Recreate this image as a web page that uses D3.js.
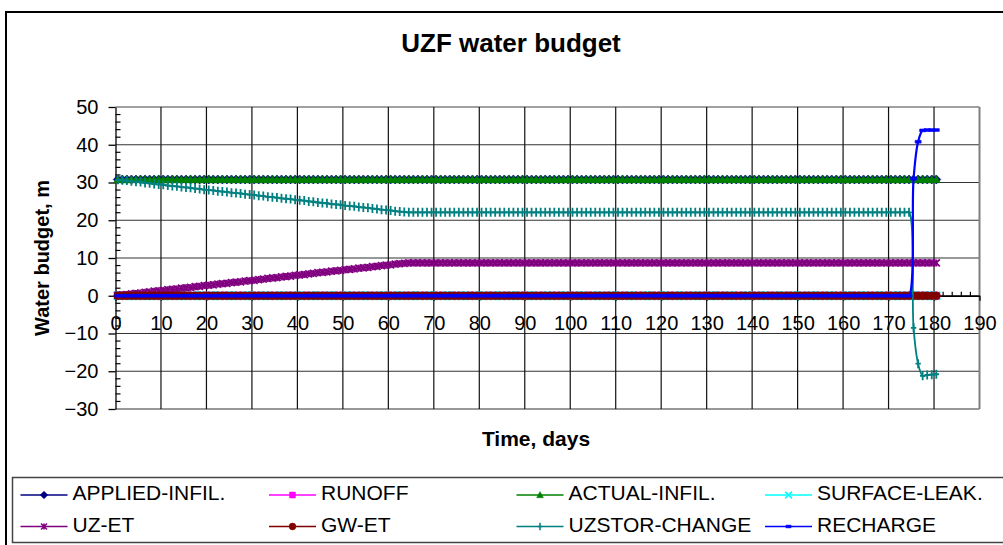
<!DOCTYPE html>
<html>
<head>
<meta charset="utf-8">
<script src="https://cdn.jsdelivr.net/npm/d3@7"></script>
<style>
  body { margin: 0; background: #fff; }
  svg { display: block; }
</style>
</head>
<body>
<svg width="1003" height="545"></svg>
<script>
// daily output times (mid-day), 0.5 .. 180.5
const days = d3.range(0.5, 181, 1);

const seriesNames = ["APPLIED-INFIL.", "RUNOFF", "ACTUAL-INFIL.", "SURFACE-LEAK.",
    "UZ-ET", "GW-ET", "UZSTOR-CHANGE", "RECHARGE"];

const xTickValues = [0, 10, 20, 30, 40, 50, 60, 70, 80, 90, 100, 110, 120, 130, 140, 150, 160, 170, 180, 190];
const yTickValues = [-30, -20, -10, 0, 10, 20, 30, 40, 50];

const appliedInfil = [
    30.8, 30.8, 30.8, 30.8, 30.8, 30.8, 30.8, 30.8, 30.8, 30.8, 30.8, 30.8, 30.8, 30.8, 30.8, 30.8, 30.8, 30.8, 30.8, 30.8,
    30.8, 30.8, 30.8, 30.8, 30.8, 30.8, 30.8, 30.8, 30.8, 30.8, 30.8, 30.8, 30.8, 30.8, 30.8, 30.8, 30.8, 30.8, 30.8, 30.8,
    30.8, 30.8, 30.8, 30.8, 30.8, 30.8, 30.8, 30.8, 30.8, 30.8, 30.8, 30.8, 30.8, 30.8, 30.8, 30.8, 30.8, 30.8, 30.8, 30.8,
    30.8, 30.8, 30.8, 30.8, 30.8, 30.8, 30.8, 30.8, 30.8, 30.8, 30.8, 30.8, 30.8, 30.8, 30.8, 30.8, 30.8, 30.8, 30.8, 30.8,
    30.8, 30.8, 30.8, 30.8, 30.8, 30.8, 30.8, 30.8, 30.8, 30.8, 30.8, 30.8, 30.8, 30.8, 30.8, 30.8, 30.8, 30.8, 30.8, 30.8,
    30.8, 30.8, 30.8, 30.8, 30.8, 30.8, 30.8, 30.8, 30.8, 30.8, 30.8, 30.8, 30.8, 30.8, 30.8, 30.8, 30.8, 30.8, 30.8, 30.8,
    30.8, 30.8, 30.8, 30.8, 30.8, 30.8, 30.8, 30.8, 30.8, 30.8, 30.8, 30.8, 30.8, 30.8, 30.8, 30.8, 30.8, 30.8, 30.8, 30.8,
    30.8, 30.8, 30.8, 30.8, 30.8, 30.8, 30.8, 30.8, 30.8, 30.8, 30.8, 30.8, 30.8, 30.8, 30.8, 30.8, 30.8, 30.8, 30.8, 30.8,
    30.8, 30.8, 30.8, 30.8, 30.8, 30.8, 30.8, 30.8, 30.8, 30.8, 30.8, 30.8, 30.8, 30.8, 30.8, 30.8, 30.8, 30.8, 30.8, 30.8,
    30.8
];

const runoff = [
    0, 0, 0, 0, 0, 0, 0, 0, 0, 0, 0, 0, 0, 0, 0, 0, 0, 0, 0, 0,
    0, 0, 0, 0, 0, 0, 0, 0, 0, 0, 0, 0, 0, 0, 0, 0, 0, 0, 0, 0,
    0, 0, 0, 0, 0, 0, 0, 0, 0, 0, 0, 0, 0, 0, 0, 0, 0, 0, 0, 0,
    0, 0, 0, 0, 0, 0, 0, 0, 0, 0, 0, 0, 0, 0, 0, 0, 0, 0, 0, 0,
    0, 0, 0, 0, 0, 0, 0, 0, 0, 0, 0, 0, 0, 0, 0, 0, 0, 0, 0, 0,
    0, 0, 0, 0, 0, 0, 0, 0, 0, 0, 0, 0, 0, 0, 0, 0, 0, 0, 0, 0,
    0, 0, 0, 0, 0, 0, 0, 0, 0, 0, 0, 0, 0, 0, 0, 0, 0, 0, 0, 0,
    0, 0, 0, 0, 0, 0, 0, 0, 0, 0, 0, 0, 0, 0, 0, 0, 0, 0, 0, 0,
    0, 0, 0, 0, 0, 0, 0, 0, 0, 0, 0, 0, 0, 0, 0, 0, 0, 0, 0, 0,
    0
];

const actualInfil = [
    30.8, 30.8, 30.8, 30.8, 30.8, 30.8, 30.8, 30.8, 30.8, 30.8, 30.8, 30.8, 30.8, 30.8, 30.8, 30.8, 30.8, 30.8, 30.8, 30.8,
    30.8, 30.8, 30.8, 30.8, 30.8, 30.8, 30.8, 30.8, 30.8, 30.8, 30.8, 30.8, 30.8, 30.8, 30.8, 30.8, 30.8, 30.8, 30.8, 30.8,
    30.8, 30.8, 30.8, 30.8, 30.8, 30.8, 30.8, 30.8, 30.8, 30.8, 30.8, 30.8, 30.8, 30.8, 30.8, 30.8, 30.8, 30.8, 30.8, 30.8,
    30.8, 30.8, 30.8, 30.8, 30.8, 30.8, 30.8, 30.8, 30.8, 30.8, 30.8, 30.8, 30.8, 30.8, 30.8, 30.8, 30.8, 30.8, 30.8, 30.8,
    30.8, 30.8, 30.8, 30.8, 30.8, 30.8, 30.8, 30.8, 30.8, 30.8, 30.8, 30.8, 30.8, 30.8, 30.8, 30.8, 30.8, 30.8, 30.8, 30.8,
    30.8, 30.8, 30.8, 30.8, 30.8, 30.8, 30.8, 30.8, 30.8, 30.8, 30.8, 30.8, 30.8, 30.8, 30.8, 30.8, 30.8, 30.8, 30.8, 30.8,
    30.8, 30.8, 30.8, 30.8, 30.8, 30.8, 30.8, 30.8, 30.8, 30.8, 30.8, 30.8, 30.8, 30.8, 30.8, 30.8, 30.8, 30.8, 30.8, 30.8,
    30.8, 30.8, 30.8, 30.8, 30.8, 30.8, 30.8, 30.8, 30.8, 30.8, 30.8, 30.8, 30.8, 30.8, 30.8, 30.8, 30.8, 30.8, 30.8, 30.8,
    30.8, 30.8, 30.8, 30.8, 30.8, 30.8, 30.8, 30.8, 30.8, 30.8, 30.8, 30.8, 30.8, 30.8, 30.8, 30.8, 30.8, 30.8, 30.8, 30.8,
    30.8
];

const surfaceLeak = [
    0, 0, 0, 0, 0, 0, 0, 0, 0, 0, 0, 0, 0, 0, 0, 0, 0, 0, 0, 0,
    0, 0, 0, 0, 0, 0, 0, 0, 0, 0, 0, 0, 0, 0, 0, 0, 0, 0, 0, 0,
    0, 0, 0, 0, 0, 0, 0, 0, 0, 0, 0, 0, 0, 0, 0, 0, 0, 0, 0, 0,
    0, 0, 0, 0, 0, 0, 0, 0, 0, 0, 0, 0, 0, 0, 0, 0, 0, 0, 0, 0,
    0, 0, 0, 0, 0, 0, 0, 0, 0, 0, 0, 0, 0, 0, 0, 0, 0, 0, 0, 0,
    0, 0, 0, 0, 0, 0, 0, 0, 0, 0, 0, 0, 0, 0, 0, 0, 0, 0, 0, 0,
    0, 0, 0, 0, 0, 0, 0, 0, 0, 0, 0, 0, 0, 0, 0, 0, 0, 0, 0, 0,
    0, 0, 0, 0, 0, 0, 0, 0, 0, 0, 0, 0, 0, 0, 0, 0, 0, 0, 0, 0,
    0, 0, 0, 0, 0, 0, 0, 0, 0, 0, 0, 0, 0, 0, 0, 0, 0, 0, 0, 0,
    0
];

const uzEt = [
    0.1, 0.2, 0.3, 0.5, 0.6, 0.7, 0.9, 1.0, 1.2, 1.3, 1.4, 1.6, 1.7, 1.8, 2.0, 2.1, 2.2, 2.4, 2.5, 2.7,
    2.8, 2.9, 3.1, 3.2, 3.3, 3.5, 3.6, 3.7, 3.9, 4.0, 4.1, 4.3, 4.4, 4.6, 4.7, 4.8, 5.0, 5.1, 5.2, 5.4,
    5.5, 5.6, 5.8, 5.9, 6.1, 6.2, 6.3, 6.5, 6.6, 6.7, 6.9, 7.0, 7.1, 7.3, 7.4, 7.5, 7.7, 7.8, 8.0, 8.1,
    8.2, 8.4, 8.5, 8.6, 8.7, 8.7, 8.7, 8.7, 8.7, 8.7, 8.7, 8.7, 8.7, 8.7, 8.7, 8.7, 8.7, 8.7, 8.7, 8.7,
    8.7, 8.7, 8.7, 8.7, 8.7, 8.7, 8.7, 8.7, 8.7, 8.7, 8.7, 8.7, 8.7, 8.7, 8.7, 8.7, 8.7, 8.7, 8.7, 8.7,
    8.7, 8.7, 8.7, 8.7, 8.7, 8.7, 8.7, 8.7, 8.7, 8.7, 8.7, 8.7, 8.7, 8.7, 8.7, 8.7, 8.7, 8.7, 8.7, 8.7,
    8.7, 8.7, 8.7, 8.7, 8.7, 8.7, 8.7, 8.7, 8.7, 8.7, 8.7, 8.7, 8.7, 8.7, 8.7, 8.7, 8.7, 8.7, 8.7, 8.7,
    8.7, 8.7, 8.7, 8.7, 8.7, 8.7, 8.7, 8.7, 8.7, 8.7, 8.7, 8.7, 8.7, 8.7, 8.7, 8.7, 8.7, 8.7, 8.7, 8.7,
    8.7, 8.7, 8.7, 8.7, 8.7, 8.7, 8.7, 8.7, 8.7, 8.7, 8.7, 8.7, 8.7, 8.7, 8.7, 8.7, 8.7, 8.7, 8.7, 8.7,
    8.7
];

const gwEt = [
    0, 0, 0, 0, 0, 0, 0, 0, 0, 0, 0, 0, 0, 0, 0, 0, 0, 0, 0, 0,
    0, 0, 0, 0, 0, 0, 0, 0, 0, 0, 0, 0, 0, 0, 0, 0, 0, 0, 0, 0,
    0, 0, 0, 0, 0, 0, 0, 0, 0, 0, 0, 0, 0, 0, 0, 0, 0, 0, 0, 0,
    0, 0, 0, 0, 0, 0, 0, 0, 0, 0, 0, 0, 0, 0, 0, 0, 0, 0, 0, 0,
    0, 0, 0, 0, 0, 0, 0, 0, 0, 0, 0, 0, 0, 0, 0, 0, 0, 0, 0, 0,
    0, 0, 0, 0, 0, 0, 0, 0, 0, 0, 0, 0, 0, 0, 0, 0, 0, 0, 0, 0,
    0, 0, 0, 0, 0, 0, 0, 0, 0, 0, 0, 0, 0, 0, 0, 0, 0, 0, 0, 0,
    0, 0, 0, 0, 0, 0, 0, 0, 0, 0, 0, 0, 0, 0, 0, 0, 0, 0, 0, 0,
    0, 0, 0, 0, 0, 0, 0, 0, 0, 0, 0, 0, 0, 0, 0, 0, 0, 0, 0, 0,
    0
];

const uzstorChange = [
    30.7, 30.6, 30.5, 30.3, 30.2, 30.1, 29.9, 29.8, 29.6, 29.5, 29.4, 29.2, 29.1, 29.0, 28.8, 28.7, 28.6, 28.4, 28.3, 28.1,
    28.0, 27.9, 27.7, 27.6, 27.5, 27.3, 27.2, 27.1, 26.9, 26.8, 26.7, 26.5, 26.4, 26.2, 26.1, 26.0, 25.8, 25.7, 25.6, 25.4,
    25.3, 25.2, 25.0, 24.9, 24.7, 24.6, 24.5, 24.3, 24.2, 24.1, 23.9, 23.8, 23.7, 23.5, 23.4, 23.3, 23.1, 23.0, 22.8, 22.7,
    22.6, 22.4, 22.3, 22.2, 22.1, 22.1, 22.1, 22.1, 22.1, 22.1, 22.1, 22.1, 22.1, 22.1, 22.1, 22.1, 22.1, 22.1, 22.1, 22.1,
    22.1, 22.1, 22.1, 22.1, 22.1, 22.1, 22.1, 22.1, 22.1, 22.1, 22.1, 22.1, 22.1, 22.1, 22.1, 22.1, 22.1, 22.1, 22.1, 22.1,
    22.1, 22.1, 22.1, 22.1, 22.1, 22.1, 22.1, 22.1, 22.1, 22.1, 22.1, 22.1, 22.1, 22.1, 22.1, 22.1, 22.1, 22.1, 22.1, 22.1,
    22.1, 22.1, 22.1, 22.1, 22.1, 22.1, 22.1, 22.1, 22.1, 22.1, 22.1, 22.1, 22.1, 22.1, 22.1, 22.1, 22.1, 22.1, 22.1, 22.1,
    22.1, 22.1, 22.1, 22.1, 22.1, 22.1, 22.1, 22.1, 22.1, 22.1, 22.1, 22.1, 22.1, 22.1, 22.1, 22.1, 22.1, 22.1, 22.1, 22.1,
    22.1, 22.1, 22.1, 22.1, 22.1, 22.1, 22.1, 22.1, 22.1, 22.1, 22.1, 22.1, 22.1, 22.1, 22.1, -8.5, -18.0, -21.2, -21.0, -20.9,
    -20.8
];

const recharge = [
    0, 0, 0, 0, 0, 0, 0, 0, 0, 0, 0, 0, 0, 0, 0, 0, 0, 0, 0, 0,
    0, 0, 0, 0, 0, 0, 0, 0, 0, 0, 0, 0, 0, 0, 0, 0, 0, 0, 0, 0,
    0, 0, 0, 0, 0, 0, 0, 0, 0, 0, 0, 0, 0, 0, 0, 0, 0, 0, 0, 0,
    0, 0, 0, 0, 0, 0, 0, 0, 0, 0, 0, 0, 0, 0, 0, 0, 0, 0, 0, 0,
    0, 0, 0, 0, 0, 0, 0, 0, 0, 0, 0, 0, 0, 0, 0, 0, 0, 0, 0, 0,
    0, 0, 0, 0, 0, 0, 0, 0, 0, 0, 0, 0, 0, 0, 0, 0, 0, 0, 0, 0,
    0, 0, 0, 0, 0, 0, 0, 0, 0, 0, 0, 0, 0, 0, 0, 0, 0, 0, 0, 0,
    0, 0, 0, 0, 0, 0, 0, 0, 0, 0, 0, 0, 0, 0, 0, 0, 0, 0, 0, 0,
    0, 0, 0, 0, 0, 0, 0, 0, 0, 0, 0, 0, 0, 0, 0, 31.0, 40.8, 43.8, 43.9, 43.9,
    43.9
];

const seriesValues = [appliedInfil, runoff, actualInfil, surfaceLeak, uzEt, gwEt, uzstorChange, recharge];

// look of each series, in the same order as seriesNames
const seriesStyle = [
    { color: "#000080", marker: "diamond", size: 4.5 },
    { color: "#ff00ff", marker: "square", size: 3.5 },
    { color: "#008000", marker: "triangle", size: 4 },
    { color: "#00ffff", marker: "x", size: 4 },
    { color: "#800080", marker: "star", size: 3.5 },
    { color: "#800000", marker: "circle", size: 4 },
    { color: "#008080", marker: "plus", size: 4.5 },
    { color: "#0000ff", marker: "dash", size: 3 }
];

const font = "Arial, 'Liberation Sans', sans-serif";

const svg = d3.select("svg");

const x = d3.scaleLinear().domain([0, 190]).range([115.5, 979.5]),
    y = d3.scaleLinear().domain([-30, 50]).range([409, 107]);

// outer chart frame
svg.append("rect")
    .attr("x", 6).attr("y", 12)
    .attr("width", 1010).attr("height", 545)
    .attr("fill", "#fff")
    .attr("stroke", "#000")
    .attr("stroke-width", 2);

svg.append("text")
    .attr("x", 511).attr("y", 52)
    .attr("text-anchor", "middle")
    .attr("font-family", font)
    .attr("font-size", "26px")
    .attr("font-weight", "bold")
    .text("UZF water budget");

// grid
const grid = svg.append("g");
grid.selectAll(".hgrid")
    .data(yTickValues)
    .join("line")
    .attr("x1", x(0)).attr("x2", x(190))
    .attr("y1", d => y(d)).attr("y2", d => y(d))
    .attr("stroke", d => d === 50 ? "#808080" : "#333")
    .attr("stroke-width", d => d === 50 ? 1.5 : 1.2);
grid.selectAll(".vgrid")
    .data(xTickValues.filter(d => d > 0))
    .join("line")
    .attr("x1", d => x(d)).attr("x2", d => x(d))
    .attr("y1", y(50)).attr("y2", y(-30))
    .attr("stroke", d => d === 190 ? "#808080" : "#111")
    .attr("stroke-width", d => d === 190 ? 2 : 1.2);

// y axis, minor ticks inside every 2
const yAxis = svg.append("g")
    .attr("transform", `translate(${x(0)},0)`)
    .call(d3.axisLeft(y).tickValues(yTickValues).tickSize(7).tickPadding(10).tickSizeOuter(0));
yAxis.selectAll("text").attr("font-family", font).attr("font-size", "20px").attr("fill", "#000");
yAxis.selectAll("line, .domain").attr("stroke", "#000").attr("stroke-width", 1.3);
svg.append("g").selectAll("line")
    .data(d3.range(-30, 51, 2).filter(d => d % 10 !== 0))
    .join("line")
    .attr("x1", x(0)).attr("x2", x(0) + 5)
    .attr("y1", d => y(d)).attr("y2", d => y(d))
    .attr("stroke", "#000")
    .attr("stroke-width", 1.2);

// x axis crossing at zero
const xAxis = svg.append("g")
    .attr("transform", `translate(0,${y(0)})`)
    .call(d3.axisBottom(x).tickValues(xTickValues).tickSize(5).tickPadding(15).tickSizeOuter(0));
xAxis.selectAll("text").attr("font-family", font).attr("font-size", "20px").attr("fill", "#000");
xAxis.selectAll("line, .domain").attr("stroke", "#000").attr("stroke-width", 1.3);
svg.append("g").selectAll("line")
    .data(d3.range(0, 191, 2).filter(d => d % 10 !== 0))
    .join("line")
    .attr("x1", d => x(d)).attr("x2", d => x(d))
    .attr("y1", y(0)).attr("y2", y(0) - 4)
    .attr("stroke", "#000")
    .attr("stroke-width", 1.2);

// axis titles
svg.append("text")
    .attr("transform", `translate(49,${(y(50) + y(-30)) / 2}) rotate(-90)`)
    .attr("text-anchor", "middle")
    .attr("font-family", font)
    .attr("font-size", "20px")
    .attr("font-weight", "bold")
    .text("Water budget, m");

svg.append("text")
    .attr("x", 536).attr("y", 446)
    .attr("text-anchor", "middle")
    .attr("font-family", font)
    .attr("font-size", "21px")
    .attr("font-weight", "bold")
    .text("Time, days");

// marker glyphs centred on 0,0
const glyph = (type, s) => {
    switch (type) {
        case "diamond": return `M0,${-s}L${s},0L0,${s}L${-s},0Z`;
        case "square": return `M${-s},${-s}H${s}V${s}H${-s}Z`;
        case "triangle": return `M0,${-s}L${s},${s * 0.8}L${-s},${s * 0.8}Z`;
        case "x": return `M${-s},${-s}L${s},${s}M${s},${-s}L${-s},${s}`;
        case "star": return `M${-s},${-s}L${s},${s}M${s},${-s}L${-s},${s}M0,${-s}V${s}`;
        case "plus": return `M0,${-s}V${s}M${-s * 0.6},0H${s * 0.6}`;
        case "dash": return `M${-s},-1.4H${s}V1.4H${-s}Z`;
        default: return d3.symbol(d3.symbolCircle, Math.PI * s * s)();
    }
};
const stroked = m => m === "x" || m === "star" || m === "plus";

const line = d3.line()
    .x(d => x(d[0]))
    .y(d => y(d[1]))
    .curve(d3.curveCatmullRom.alpha(0.5));

const plot = svg.append("g");
seriesValues.forEach((vals, i) => {
    const st = seriesStyle[i];
    const pts = vals.map((v, j) => [days[j], v]);
    const g = plot.append("g");

    g.append("path")
        .datum(pts)
        .attr("d", line)
        .attr("fill", "none")
        .attr("stroke", st.color)
        .attr("stroke-width", i === 7 ? 2.2 : 1.8);

    g.selectAll("path.mk")
        .data(pts)
        .join("path")
        .attr("class", "mk")
        .attr("transform", d => `translate(${x(d[0])},${y(d[1])})`)
        .attr("d", glyph(st.marker, st.size))
        .attr("fill", stroked(st.marker) ? "none" : st.color)
        .attr("stroke", st.color)
        .attr("stroke-width", stroked(st.marker) ? 1.8 : 0.6);
});

// legend
svg.append("rect")
    .attr("x", 12.5).attr("y", 477.5)
    .attr("width", 1000).attr("height", 65)
    .attr("fill", "#fff")
    .attr("stroke", "#444")
    .attr("stroke-width", 1.5);

const legendCols = [20.5, 269, 516.5, 765],
    legendRows = [495, 526.5];

seriesNames.forEach((name, i) => {
    const st = seriesStyle[i],
        lx = legendCols[i % 4],
        ly = legendRows[Math.floor(i / 4)],
        g = svg.append("g").attr("transform", `translate(${lx},${ly})`);

    g.append("line")
        .attr("x1", 0).attr("x2", 47)
        .attr("y1", 0).attr("y2", 0)
        .attr("stroke", st.color)
        .attr("stroke-width", 1.5);
    g.append("path")
        .attr("transform", "translate(23.5,0)")
        .attr("d", glyph(st.marker, st.size * 0.85))
        .attr("fill", stroked(st.marker) ? "none" : st.color)
        .attr("stroke", st.color)
        .attr("stroke-width", stroked(st.marker) ? 1.5 : 0.5);
    g.append("text")
        .attr("x", 52).attr("y", 5)
        .attr("font-family", font)
        .attr("font-size", "21px")
        .attr("fill", "#000")
        .text(name);
});
</script>
</body>
</html>
